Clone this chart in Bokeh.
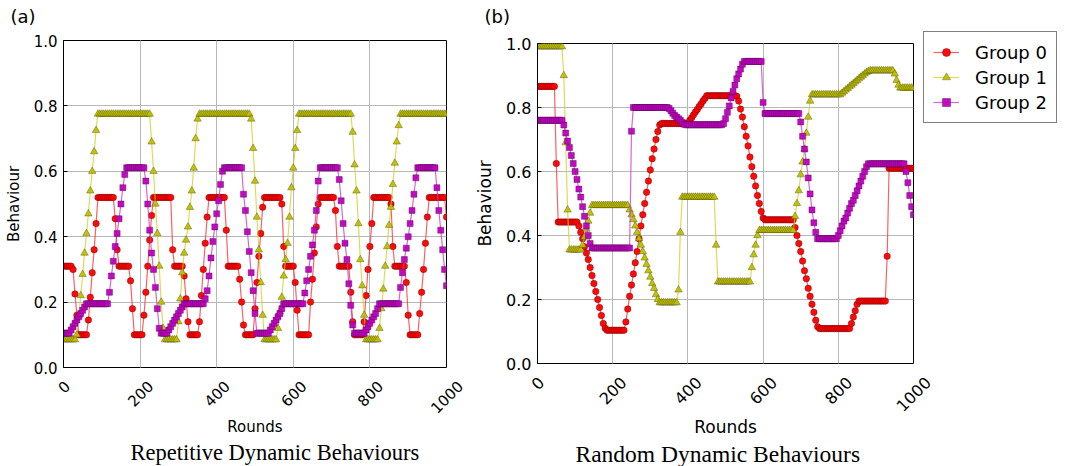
import math
from bokeh.plotting import figure
from bokeh.layouts import row, column
from bokeh.models import (Range1d, FixedTicker, PrintfTickFormatter, Title, Legend, LegendItem, Grid)
from bokeh.core.properties import value
from bokeh.embed import file_html
from bokeh.resources import INLINE

rounds = list(range(0, 1001, 5))
x_ticks = [0, 200, 400, 600, 800, 1000]
y_ticks = [0.0, 0.2, 0.4, 0.6, 0.8, 1.0]
group_names = ["Group 0", "Group 1", "Group 2"]
captions = ["Repetitive Dynamic Behaviours", "Random Dynamic Behaviours"]
panel_tags = ["(a)", "(b)"]

# ---- panel (a): repetitive behaviours ----
rep_group0 = [
    0.31, 0.31, 0.31, 0.31, 0.31, 0.30, 0.225, 0.16, 0.10, 0.10, 0.10, 0.10, 0.10, 0.145, 0.215, 0.29, 0.36, 0.44, 0.52, 0.52,
    0.52, 0.52, 0.52, 0.52, 0.52, 0.52, 0.52, 0.455, 0.36, 0.31, 0.31, 0.31, 0.31, 0.31, 0.31, 0.265, 0.18, 0.10, 0.10, 0.10,
    0.10, 0.10, 0.16, 0.23, 0.31, 0.39, 0.465, 0.52, 0.52, 0.52, 0.52, 0.52, 0.52, 0.52, 0.52, 0.52, 0.52, 0.36, 0.31, 0.31,
    0.31, 0.31, 0.31, 0.28, 0.21, 0.14, 0.10, 0.10, 0.10, 0.10, 0.10, 0.14, 0.22, 0.30, 0.38, 0.46, 0.52, 0.52, 0.52, 0.52,
    0.52, 0.52, 0.52, 0.52, 0.52, 0.42, 0.31, 0.31, 0.31, 0.31, 0.31, 0.31, 0.27, 0.20, 0.13, 0.10, 0.10, 0.10, 0.10, 0.10,
    0.18, 0.26, 0.34, 0.41, 0.49, 0.52, 0.52, 0.52, 0.52, 0.52, 0.52, 0.52, 0.52, 0.52, 0.50, 0.37, 0.31, 0.31, 0.31, 0.31,
    0.31, 0.26, 0.175, 0.10, 0.10, 0.10, 0.10, 0.10, 0.10, 0.20, 0.27, 0.35, 0.43, 0.50, 0.52, 0.52, 0.52, 0.52, 0.52, 0.52,
    0.52, 0.52, 0.48, 0.37, 0.31, 0.31, 0.31, 0.31, 0.31, 0.31, 0.23, 0.14, 0.10, 0.10, 0.10, 0.10, 0.10, 0.14, 0.22, 0.30,
    0.37, 0.44, 0.52, 0.52, 0.52, 0.52, 0.52, 0.52, 0.52, 0.52, 0.52, 0.50, 0.37, 0.31, 0.31, 0.31, 0.31, 0.31, 0.31, 0.26,
    0.16, 0.10, 0.10, 0.10, 0.10, 0.10, 0.165, 0.23, 0.30, 0.38, 0.46, 0.52, 0.52, 0.52, 0.52, 0.52, 0.52, 0.52, 0.52, 0.52,
    0.46,
]
rep_group1 = [
    0.085, 0.085, 0.085, 0.085, 0.085, 0.085, 0.085, 0.10, 0.16, 0.22, 0.285, 0.35, 0.41, 0.47, 0.54, 0.60, 0.66, 0.725, 0.775, 0.775,
    0.775, 0.775, 0.775, 0.775, 0.775, 0.775, 0.775, 0.775, 0.775, 0.775, 0.775, 0.775, 0.775, 0.775, 0.775, 0.775, 0.775, 0.775, 0.775, 0.775,
    0.775, 0.775, 0.775, 0.775, 0.775, 0.775, 0.69, 0.60, 0.50, 0.41, 0.31, 0.20, 0.12, 0.085, 0.085, 0.085, 0.085, 0.085, 0.085, 0.085,
    0.14, 0.21, 0.29, 0.35, 0.39, 0.43, 0.49, 0.54, 0.61, 0.70, 0.76, 0.775, 0.775, 0.775, 0.775, 0.775, 0.775, 0.775, 0.775, 0.775,
    0.775, 0.775, 0.775, 0.775, 0.775, 0.775, 0.775, 0.775, 0.775, 0.775, 0.775, 0.775, 0.775, 0.775, 0.775, 0.775, 0.775, 0.775, 0.76, 0.67,
    0.57, 0.46, 0.36, 0.26, 0.16, 0.085, 0.085, 0.085, 0.085, 0.085, 0.085, 0.085, 0.12, 0.17, 0.215, 0.28, 0.33, 0.38, 0.46, 0.55,
    0.61, 0.67, 0.725, 0.775, 0.775, 0.775, 0.775, 0.775, 0.775, 0.775, 0.775, 0.775, 0.775, 0.775, 0.775, 0.775, 0.775, 0.775, 0.775, 0.775,
    0.775, 0.775, 0.775, 0.775, 0.775, 0.775, 0.775, 0.775, 0.775, 0.775, 0.775, 0.72, 0.62, 0.54, 0.44, 0.33, 0.25, 0.16, 0.085, 0.085,
    0.085, 0.085, 0.085, 0.085, 0.085, 0.12, 0.18, 0.24, 0.31, 0.37, 0.435, 0.49, 0.56, 0.625, 0.69, 0.74, 0.775, 0.775, 0.775, 0.775,
    0.775, 0.775, 0.775, 0.775, 0.775, 0.775, 0.775, 0.775, 0.775, 0.775, 0.775, 0.775, 0.775, 0.775, 0.775, 0.775, 0.775, 0.775, 0.775, 0.775,
    0.775,
]
rep_group2 = [
    0.105, 0.105, 0.105, 0.105, 0.115, 0.125, 0.135, 0.145, 0.155, 0.165, 0.175, 0.185, 0.195, 0.195, 0.195, 0.195, 0.195, 0.195, 0.195, 0.195,
    0.195, 0.195, 0.195, 0.195, 0.23, 0.28, 0.325, 0.37, 0.41, 0.455, 0.50, 0.55, 0.59, 0.611, 0.611, 0.611, 0.611, 0.611, 0.611, 0.611,
    0.611, 0.611, 0.611, 0.57, 0.50, 0.42, 0.35, 0.30, 0.245, 0.18, 0.12, 0.105, 0.105, 0.105, 0.105, 0.115, 0.125, 0.135, 0.145, 0.155,
    0.165, 0.175, 0.185, 0.195, 0.195, 0.195, 0.195, 0.195, 0.195, 0.195, 0.195, 0.195, 0.195, 0.195, 0.21, 0.235, 0.28, 0.335, 0.385, 0.43,
    0.47, 0.51, 0.56, 0.60, 0.611, 0.611, 0.611, 0.611, 0.611, 0.611, 0.611, 0.611, 0.611, 0.611, 0.53, 0.48, 0.415, 0.355, 0.29, 0.235,
    0.165, 0.105, 0.105, 0.105, 0.105, 0.105, 0.105, 0.105, 0.115, 0.125, 0.135, 0.145, 0.155, 0.165, 0.18, 0.195, 0.195, 0.195, 0.195, 0.195,
    0.195, 0.195, 0.195, 0.195, 0.195, 0.195, 0.228, 0.265, 0.30, 0.34, 0.375, 0.42, 0.48, 0.57, 0.611, 0.611, 0.611, 0.611, 0.611, 0.611,
    0.611, 0.611, 0.611, 0.611, 0.575, 0.51, 0.44, 0.38, 0.33, 0.256, 0.19, 0.13, 0.105, 0.105, 0.105, 0.105, 0.105, 0.105, 0.115, 0.125,
    0.135, 0.145, 0.155, 0.165, 0.18, 0.195, 0.195, 0.195, 0.195, 0.195, 0.195, 0.195, 0.195, 0.195, 0.195, 0.195, 0.245, 0.29, 0.33, 0.365,
    0.40, 0.44, 0.48, 0.53, 0.58, 0.611, 0.611, 0.611, 0.611, 0.611, 0.611, 0.611, 0.611, 0.611, 0.611, 0.55, 0.48, 0.42, 0.36, 0.30,
    0.25,
]

# ---- panel (b): random behaviours ----
rnd_group0 = [
    0.866, 0.866, 0.866, 0.866, 0.866, 0.866, 0.866, 0.866, 0.866, 0.866, 0.625, 0.442, 0.442, 0.442, 0.442, 0.442, 0.442, 0.442, 0.442, 0.442,
    0.442, 0.442, 0.43, 0.41, 0.39, 0.365, 0.345, 0.325, 0.30, 0.275, 0.25, 0.225, 0.20, 0.175, 0.15, 0.125, 0.11, 0.104, 0.104, 0.104,
    0.104, 0.104, 0.104, 0.104, 0.104, 0.104, 0.104, 0.13, 0.17, 0.21, 0.245, 0.28, 0.315, 0.35, 0.39, 0.43, 0.465, 0.50, 0.535, 0.57,
    0.605, 0.64, 0.67, 0.70, 0.725, 0.745, 0.75, 0.75, 0.75, 0.75, 0.75, 0.75, 0.75, 0.75, 0.75, 0.75, 0.75, 0.75, 0.75, 0.75,
    0.75, 0.76, 0.768, 0.777, 0.786, 0.794, 0.803, 0.811, 0.82, 0.828, 0.837, 0.837, 0.837, 0.837, 0.837, 0.837, 0.837, 0.837, 0.837, 0.837,
    0.837, 0.837, 0.837, 0.837, 0.837, 0.837, 0.835, 0.82, 0.795, 0.77, 0.74, 0.71, 0.68, 0.645, 0.615, 0.585, 0.555, 0.525, 0.50, 0.475,
    0.455, 0.449, 0.449, 0.449, 0.449, 0.449, 0.449, 0.449, 0.449, 0.449, 0.449, 0.449, 0.449, 0.449, 0.449, 0.449, 0.449, 0.425, 0.40, 0.375,
    0.35, 0.32, 0.29, 0.265, 0.235, 0.21, 0.185, 0.16, 0.135, 0.115, 0.109, 0.109, 0.109, 0.109, 0.109, 0.109, 0.109, 0.109, 0.109, 0.109,
    0.109, 0.109, 0.109, 0.109, 0.109, 0.109, 0.109, 0.125, 0.145, 0.165, 0.185, 0.195, 0.195, 0.195, 0.195, 0.195, 0.195, 0.195, 0.195, 0.195,
    0.195, 0.195, 0.195, 0.195, 0.195, 0.195, 0.335, 0.61, 0.61, 0.61, 0.61, 0.61, 0.61, 0.61, 0.61, 0.61, 0.61, 0.61, 0.61, 0.61,
    0.61,
]
rnd_group1 = [
    0.99, 0.99, 0.99, 0.99, 0.99, 0.99, 0.99, 0.99, 0.99, 0.99, 0.99, 0.99, 0.99, 0.99, 0.90, 0.69, 0.48, 0.355, 0.355, 0.355,
    0.355, 0.355, 0.355, 0.355, 0.37, 0.395, 0.42, 0.445, 0.47, 0.494, 0.494, 0.494, 0.494, 0.494, 0.494, 0.494, 0.494, 0.494, 0.494, 0.494,
    0.494, 0.494, 0.494, 0.494, 0.494, 0.494, 0.494, 0.494, 0.494, 0.48, 0.465, 0.45, 0.43, 0.41, 0.39, 0.37, 0.35, 0.33, 0.31, 0.29,
    0.27, 0.25, 0.235, 0.215, 0.20, 0.19, 0.19, 0.19, 0.19, 0.19, 0.19, 0.19, 0.19, 0.19, 0.19, 0.23, 0.41, 0.52, 0.52, 0.52,
    0.52, 0.52, 0.52, 0.52, 0.52, 0.52, 0.52, 0.52, 0.52, 0.52, 0.52, 0.52, 0.52, 0.52, 0.52, 0.37, 0.255, 0.255, 0.255, 0.255,
    0.255, 0.255, 0.255, 0.255, 0.255, 0.255, 0.255, 0.255, 0.255, 0.255, 0.255, 0.255, 0.255, 0.255, 0.30, 0.34, 0.37, 0.40, 0.416, 0.416,
    0.416, 0.416, 0.416, 0.416, 0.416, 0.416, 0.416, 0.416, 0.416, 0.416, 0.416, 0.416, 0.416, 0.416, 0.416, 0.416, 0.416, 0.46, 0.50, 0.54,
    0.59, 0.63, 0.67, 0.72, 0.77, 0.82, 0.84, 0.84, 0.84, 0.84, 0.84, 0.84, 0.84, 0.84, 0.84, 0.84, 0.84, 0.84, 0.84, 0.84,
    0.84, 0.84, 0.845, 0.85, 0.855, 0.86, 0.865, 0.87, 0.875, 0.88, 0.885, 0.89, 0.895, 0.90, 0.905, 0.91, 0.913, 0.915, 0.915, 0.915,
    0.915, 0.915, 0.915, 0.915, 0.915, 0.915, 0.915, 0.915, 0.915, 0.915, 0.905, 0.885, 0.87, 0.861, 0.861, 0.861, 0.861, 0.861, 0.861, 0.861,
    0.861,
]
rnd_group2 = [
    0.76, 0.76, 0.76, 0.76, 0.76, 0.76, 0.76, 0.76, 0.76, 0.76, 0.76, 0.76, 0.76, 0.76, 0.745, 0.72, 0.695, 0.675, 0.65, 0.625,
    0.60, 0.575, 0.545, 0.52, 0.49, 0.46, 0.43, 0.40, 0.375, 0.361, 0.361, 0.361, 0.361, 0.361, 0.361, 0.361, 0.361, 0.361, 0.361, 0.361,
    0.361, 0.361, 0.361, 0.361, 0.361, 0.361, 0.361, 0.361, 0.361, 0.361, 0.726, 0.80, 0.80, 0.80, 0.80, 0.80, 0.80, 0.80, 0.80, 0.80,
    0.80, 0.80, 0.80, 0.80, 0.80, 0.80, 0.80, 0.80, 0.80, 0.80, 0.797, 0.79, 0.782, 0.775, 0.77, 0.765, 0.76, 0.753, 0.748, 0.746,
    0.746, 0.746, 0.746, 0.746, 0.746, 0.746, 0.746, 0.746, 0.746, 0.746, 0.746, 0.746, 0.746, 0.746, 0.746, 0.746, 0.746, 0.746, 0.746, 0.75,
    0.765, 0.785, 0.805, 0.83, 0.85, 0.87, 0.89, 0.905, 0.92, 0.935, 0.944, 0.944, 0.944, 0.944, 0.944, 0.944, 0.944, 0.944, 0.944, 0.944,
    0.816, 0.781, 0.781, 0.781, 0.781, 0.781, 0.781, 0.781, 0.781, 0.781, 0.781, 0.781, 0.781, 0.781, 0.781, 0.781, 0.781, 0.781, 0.781, 0.781,
    0.755, 0.71, 0.67, 0.63, 0.58, 0.53, 0.48, 0.44, 0.41, 0.39, 0.39, 0.39, 0.39, 0.39, 0.39, 0.39, 0.39, 0.39, 0.39, 0.39,
    0.40, 0.415, 0.43, 0.445, 0.455, 0.47, 0.485, 0.50, 0.51, 0.525, 0.54, 0.555, 0.57, 0.585, 0.60, 0.615, 0.624, 0.624, 0.624, 0.624,
    0.624, 0.624, 0.624, 0.624, 0.624, 0.624, 0.624, 0.624, 0.624, 0.624, 0.624, 0.624, 0.624, 0.624, 0.624, 0.624, 0.60, 0.565, 0.525, 0.49,
    0.465,
]

for arr in (rep_group0, rep_group1, rep_group2, rnd_group0, rnd_group1, rnd_group2):
    assert len(arr) == len(rounds), len(arr)

styles = [
    dict(marker="circle", fill="#ff0000", line="#ff2a2a", size=6.5, edge="#5a0000"),
    dict(marker="triangle", fill="#bfbf00", line="#cfcf20", size=7.5, edge="#4a4a00"),
    dict(marker="square", fill="#bf00bf", line="#c832c8", size=6.0, edge="#4a004a"),
]

PAD = 11   # room above/below the main frame for the end y tick labels


def no_align(fig):
    try:
        fig.frame_align = False
    except Exception:
        pass


def strip(fig_w, h):
    s = figure(frame_width=fig_w, frame_height=h, min_border=0,
               min_border_left=0, min_border_right=0, min_border_top=0, min_border_bottom=0,
               x_range=Range1d(0, fig_w), y_range=Range1d(-h, 0),
               x_axis_location=None, y_axis_location=None,
               output_backend="svg", toolbar_location=None)
    s.outline_line_color = None
    s.background_fill_color = "white"
    s.border_fill_color = "white"
    s.grid.visible = False
    no_align(s)
    return s


def make_panel(series, tag, tag_x, caption, caption_x, caption_fs, frame, borders, fig_w,
               tick_fs, label_fs, lab_h, lab_bottom, with_legend):
    fw, fh = frame
    bl, br, bt = borders
    # ---------- strip above: panel tag ----------
    t = strip(fig_w, bt - PAD)
    t.text(x=[tag_x], y=[-5], text=[tag], text_align="left", text_baseline="top",
           text_font=value("DejaVu Sans"), text_font_size=value("18px"), text_color="black")

    # ---------- main plot ----------
    p = figure(frame_width=fw, frame_height=fh,
               min_border_left=bl, min_border_right=br, min_border_top=PAD, min_border_bottom=PAD,
               x_range=Range1d(0, 1000), y_range=Range1d(0, 1), x_axis_location=None,
               output_backend="svg", toolbar_location=None)
    no_align(p)
    p.background_fill_color = "white"
    p.border_fill_color = "white"
    p.outline_line_color = "black"
    p.outline_line_width = 1
    p.add_layout(Grid(dimension=0, ticker=FixedTicker(ticks=x_ticks),
                      grid_line_color="#b8b8b8", grid_line_width=1))
    p.ygrid.grid_line_color = "#b8b8b8"
    p.ygrid.grid_line_width = 1
    p.yaxis.ticker = FixedTicker(ticks=y_ticks)
    p.yaxis.formatter = PrintfTickFormatter(format="%.1f")
    p.yaxis.major_label_text_font = "DejaVu Sans"
    p.yaxis.major_label_text_font_size = tick_fs
    p.yaxis.major_label_text_color = "black"
    p.yaxis.axis_label = "Behaviour"
    p.yaxis.axis_label_text_font = "DejaVu Sans"
    p.yaxis.axis_label_text_font_size = label_fs
    p.yaxis.axis_label_text_font_style = "normal"
    p.yaxis.axis_label_text_color = "black"
    p.yaxis.axis_line_color = "black"
    p.yaxis.major_tick_in = 4
    p.yaxis.major_tick_out = 0
    p.yaxis.minor_tick_line_color = None
    p.yaxis.major_label_standoff = 6
    p.yaxis.axis_label_standoff = 8

    items = []
    for name, vals, st in zip(group_names, series, styles):
        ln = p.line(rounds, vals, line_color=st["line"], line_width=1.2, line_alpha=0.75)
        sc = p.scatter(rounds, vals, marker=st["marker"], size=st["size"],
                       fill_color=st["fill"], fill_alpha=0.95,
                       line_color=st["edge"], line_width=0.5, line_alpha=0.8)
        items.append(LegendItem(label=name, renderers=[ln, sc]))

    if with_legend:
        lg = Legend(items=items, location=(10, fh + 10 - 90), orientation="vertical")
        lg.border_line_color = "black"
        lg.border_line_width = 1
        lg.background_fill_color = "white"
        lg.background_fill_alpha = 1.0
        lg.label_text_font = "DejaVu Sans"
        lg.label_text_font_size = "18px"
        lg.label_text_color = "black"
        lg.glyph_width = 26
        lg.glyph_height = 20
        lg.label_height = 22
        lg.label_standoff = 16
        lg.spacing = 3
        lg.padding = 9
        lg.margin = 0
        p.add_layout(lg, "right")

    # ---------- strip below: rotated tick labels, axis label and caption ----------
    m = 24                          # extra px on each side so end labels are not clipped
    k = 1000.0 / fw
    q_left = bl - m
    q = figure(frame_width=fw + 2 * m, frame_height=lab_h,
               min_border_left=q_left, min_border_right=fig_w - q_left - (fw + 2 * m),
               min_border_top=0, min_border_bottom=lab_bottom,
               x_range=Range1d(-m * k, 1000 + m * k), y_range=Range1d(-lab_h, 0),
               x_axis_location=None, y_axis_location=None,
               output_backend="svg", toolbar_location=None)
    no_align(q)
    q.outline_line_color = None
    q.background_fill_color = "white"
    q.border_fill_color = "white"
    q.grid.visible = False
    fs = float(tick_fs.replace("px", ""))
    tick_text = [str(t) for t in x_ticks]
    offs = [-(1 + (len(s) * 0.636 * fs + 0.73 * fs) * 0.7071 / 2) for s in tick_text]
    q.text(x=x_ticks, y=offs, text=tick_text, angle=math.pi / 4,
           text_align="center", text_baseline="middle",
           text_font=value("DejaVu Sans"), text_font_size=value(tick_fs), text_color="black")
    q.add_layout(Title(text="Rounds", align="center", standoff=2, text_font="DejaVu Sans",
                       text_font_size=label_fs, text_font_style="normal", text_color="black"), "below")
    q.add_layout(Title(text=caption, align="left", offset=caption_x - q_left, standoff=2,
                       text_font="Liberation Serif", text_font_size=caption_fs,
                       text_font_style="normal", text_color="black"), "below")
    return column(t, p, q, spacing=0)


c1 = make_panel([rep_group0, rep_group1, rep_group2], panel_tags[0], 10, captions[0], 130, "22.5px",
                (383, 327), (63, 24, 40), 470, "15px", "15px", 36, 52, False)
c2 = make_panel([rnd_group0, rnd_group1, rnd_group2], panel_tags[1], 14, captions[1], 105, "23.5px",
                (376, 320), (67, 152, 43), 595, "16px", "17px", 39, 53, True)

layout = row(c1, c2, spacing=0)
open("out.html", "w").write(file_html(layout, INLINE))
